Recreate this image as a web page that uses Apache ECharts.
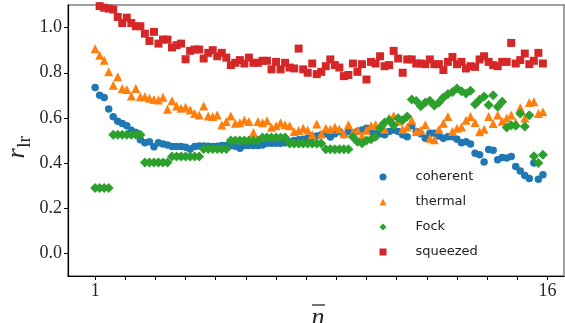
<!DOCTYPE html>
<html><head><meta charset="utf-8">
<script src="https://cdn.jsdelivr.net/npm/echarts@6/dist/echarts.min.js"></script>
<style>html,body{margin:0;padding:0;background:#fff}#c{width:565px;height:323px}</style>
</head><body><div id="c"></div>
<script>
const nbar = [1.00,1.15,1.30,1.45,1.60,1.75,1.90,2.05,2.20,2.35,2.50,2.65,2.80,2.95,3.10,3.25,3.40,3.55,3.70,3.85,
4.00,4.15,4.30,4.45,4.60,4.75,4.90,5.05,5.20,5.35,5.50,5.65,5.80,5.95,6.10,6.25,6.40,6.55,6.70,6.85,
7.00,7.15,7.30,7.45,7.60,7.75,7.90,8.05,8.20,8.35,8.50,8.65,8.80,8.95,9.10,9.25,9.40,9.55,9.70,9.85,
10.00,10.15,10.30,10.45,10.60,10.75,10.90,11.05,11.20,11.35,11.50,11.65,11.80,11.95,12.10,12.25,12.40,12.55,12.70,12.85,
13.00,13.15,13.30,13.45,13.60,13.75,13.90,14.05,14.20,14.35,14.50,14.65,14.80,14.95,15.10,15.25,15.40,15.55,15.70,15.85];

const coherent = [0.735,0.70,0.69,0.64,0.605,0.585,0.575,0.565,0.545,0.535,
0.503,0.49,0.495,0.472,0.49,0.485,0.48,0.473,0.473,0.473,
0.47,0.462,0.473,0.476,0.476,0.475,0.473,0.475,0.478,0.478,
0.478,0.475,0.466,0.478,0.478,0.478,0.478,0.48,0.488,0.488,
0.488,0.488,0.49,0.495,0.50,0.503,0.505,0.51,0.517,0.52,
0.525,0.53,0.515,0.53,0.54,0.525,0.54,0.532,0.54,0.547,
0.554,0.54,0.532,0.53,0.525,0.54,0.547,0.54,0.525,0.517,
0.565,0.54,0.53,0.51,0.532,0.532,0.52,0.51,0.517,0.517,
0.505,0.49,0.495,0.485,0.444,0.437,0.405,0.46,0.457,0.415,
0.425,0.422,0.429,0.385,0.365,0.345,0.332,0.40,0.328,0.348];

const thermal = [0.906,0.877,0.855,0.804,0.745,0.782,0.73,0.726,0.697,0.73,
0.694,0.694,0.687,0.682,0.679,0.691,0.638,0.676,0.653,0.643,
0.647,0.635,0.62,0.613,0.653,0.609,0.606,0.613,0.569,0.584,
0.609,0.576,0.579,0.591,0.584,0.535,0.584,0.579,0.588,0.559,
0.565,0.579,0.57,0.565,0.54,0.544,0.554,0.547,0.525,0.573,
0.529,0.554,0.55,0.56,0.55,0.53,0.57,0.535,0.545,0.52,
0.545,0.565,0.57,0.565,0.55,0.60,0.61,0.585,0.55,0.56,
0.59,0.54,0.545,0.57,0.51,0.503,0.55,0.576,0.606,0.54,
0.554,0.56,0.59,0.606,0.58,0.539,0.55,0.606,0.575,0.613,
0.585,0.60,0.613,0.58,0.645,0.60,0.668,0.672,0.62,0.627];

const fock = [0.29,0.29,0.29,0.29,0.525,0.525,0.525,0.525,0.525,0.525,
0.525,0.403,0.403,0.403,0.403,0.403,0.403,0.429,0.429,0.429,
0.429,0.429,0.429,0.429,0.462,0.462,0.462,0.462,0.462,0.462,
0.50,0.50,0.50,0.50,0.50,0.50,0.50,0.513,0.513,0.513,
0.513,0.513,0.513,0.487,0.487,0.487,0.487,0.487,0.487,0.487,
0.487,0.461,0.461,0.461,0.461,0.461,0.461,0.515,0.495,0.488,
0.50,0.506,0.517,0.555,0.58,0.59,0.568,0.598,0.59,0.606,
0.682,0.675,0.652,0.668,0.676,0.655,0.668,0.69,0.706,0.715,
0.73,0.718,0.708,0.72,0.66,0.68,0.695,0.657,0.70,0.65,
0.672,0.558,0.567,0.565,0.62,0.562,0.612,0.43,0.40,0.437];

const squeezed = [1.12,1.095,1.088,1.084,1.08,1.047,1.02,1.044,1.02,1.006,
1.006,0.973,0.941,0.981,0.929,0.947,0.947,0.912,0.922,0.929,
0.86,0.897,0.903,0.903,0.863,0.888,0.9,0.873,0.888,0.867,
0.834,0.844,0.856,0.841,0.867,0.844,0.844,0.853,0.853,0.815,
0.848,0.815,0.844,0.823,0.819,0.907,0.815,0.80,0.841,0.794,
0.804,0.829,0.859,0.834,0.823,0.785,0.79,0.841,0.804,0.838,
0.77,0.848,0.841,0.873,0.829,0.834,0.897,0.863,0.80,0.859,
0.859,0.841,0.841,0.838,0.859,0.838,0.838,0.812,0.848,0.87,
0.838,0.848,0.819,0.829,0.826,0.859,0.873,0.848,0.834,0.829,
0.848,0.848,0.932,0.841,0.856,0.885,0.838,0.853,0.888,0.841];

const seriesNames = ['coherent','thermal','Fock','squeezed'];
const yTickValues = [0.0,0.2,0.4,0.6,0.8,1.0];
const xTickLabels = [1,16];
const xTickMarks = [1,2,3,4,5,6,7,8,9,10,11,12,13,14,15,16];

const colors = ['#1f77b4','#ff7f0e','#2ca02c','#d62728'];
const symbols = ['circle','triangle','diamond','rect'];
const sizes = [7.5,9,10,8];
const dataSets = [coherent, thermal, fock, squeezed];
const legendY = [177,202,227,252];

function pts(v){ return nbar.map((x,i)=>[x,v[i]]); }

const chart = echarts.init(document.getElementById('c'), null, {renderer:'canvas'});
const tickFont = {fontFamily:'Liberation Serif', fontSize:18, color:'#262626'};
const option = {
  animation:false,
  grid:{left:68,top:5,right:1,bottom:47,show:true,borderColor:'#808080',borderWidth:1.5,backgroundColor:'transparent'},
  xAxis:{type:'value',min:0.1,max:16.55,
    axisLine:{show:true,onZero:false,lineStyle:{color:'#000',width:1.2}},
    axisTick:{show:true,customValues:xTickMarks,length:4,lineStyle:{color:'#000',width:1}},
    axisLabel:Object.assign({customValues:xTickLabels,margin:6},tickFont),
    splitLine:{show:false}},
  yAxis:{type:'value',min:-0.1,max:1.1,
    axisLine:{show:true,onZero:false,lineStyle:{color:'#000',width:1.2}},
    axisTick:{show:true,customValues:yTickValues,length:4,lineStyle:{color:'#000',width:1}},
    axisLabel:Object.assign({customValues:yTickValues,margin:6,formatter:v=>v.toFixed(1)},tickFont),
    splitLine:{show:false}},
  legend: seriesNames.map((n,i)=>({
    data:[{name:n,icon:symbols[i]}], left:379.5, top:legendY[i]-7.5, padding:0,
    itemWidth:7, itemHeight:7, selectedMode:false,
    textStyle:{fontFamily:'DejaVu Sans',fontSize:13,color:'#222',lineHeight:15,padding:[0,0,0,24]}
  })),
  graphic:[
    {type:'text',x:17,y:153.5,rotation:Math.PI/2,style:{text:'r',font:'italic 26px "Liberation Serif"',fill:'#262626',align:'center',verticalAlign:'middle'}},
    {type:'text',x:25,y:142,rotation:Math.PI/2,style:{text:'lr',font:'19px "Liberation Serif"',fill:'#262626',align:'center',verticalAlign:'middle'}},
    {type:'text',x:318,y:318,style:{text:'n',font:'italic 26px "Liberation Serif"',fill:'#262626',align:'center',verticalAlign:'middle'}},
    {type:'line',shape:{x1:312,y1:305,x2:325,y2:305},style:{stroke:'#262626',lineWidth:1.3}}
  ],
  series: seriesNames.map((n,i)=>({
    name:n,type:'scatter',data:pts(dataSets[i]),symbol:symbols[i],symbolSize:sizes[i],
    itemStyle:{color:colors[i],opacity:1},clip:true
  }))
};
chart.setOption(option);
</script></body></html>
